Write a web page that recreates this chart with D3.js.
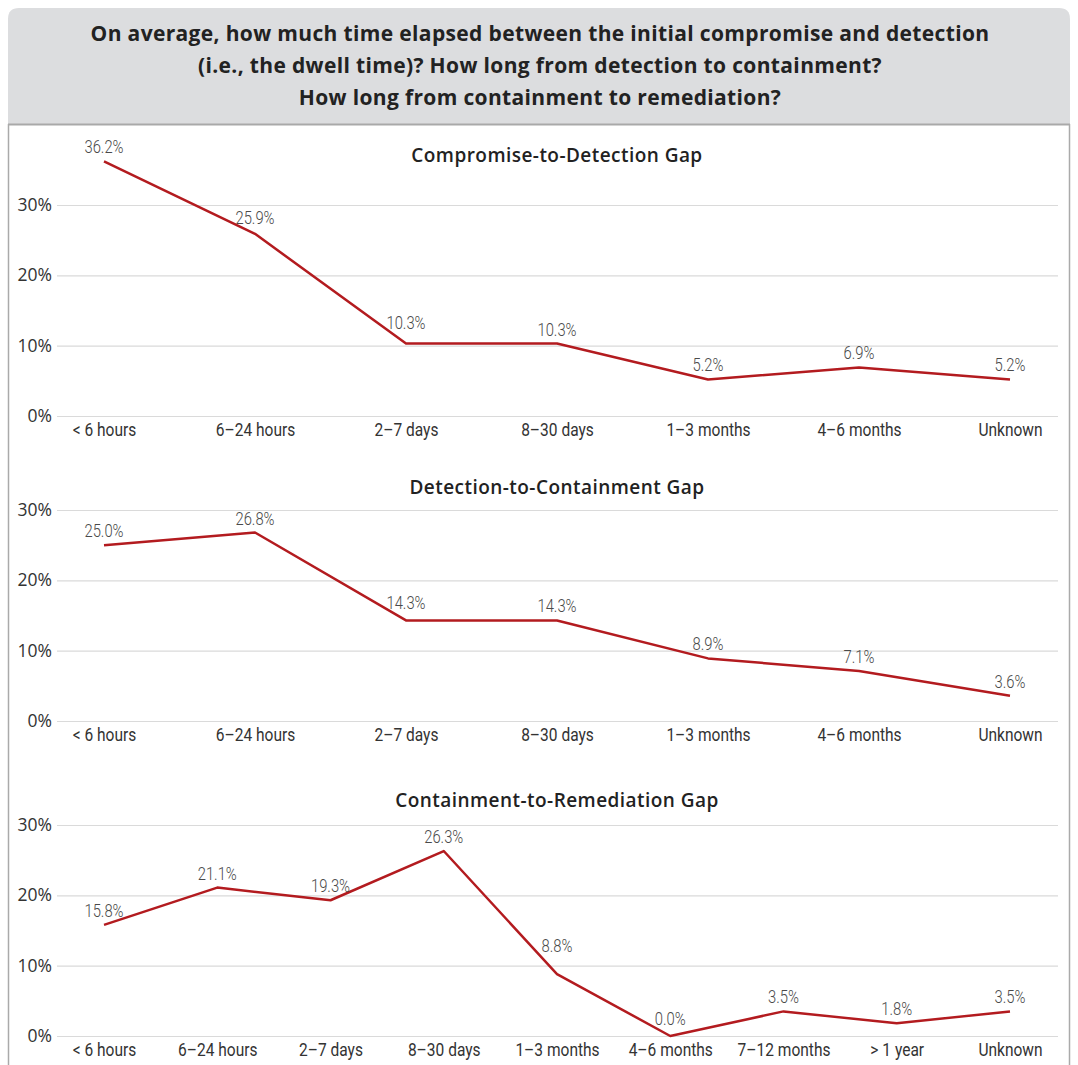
<!DOCTYPE html>
<html>
<head>
<meta charset="utf-8">
<script src="https://cdn.jsdelivr.net/npm/d3@7"></script>
<style>
  html, body { margin: 0; padding: 0; background: #ffffff; }
  svg { display: block; }
</style>
</head>
<body>
<svg id="chart" width="1078" height="1065"></svg>
<script>
// Survey response shares (%) for each gap
const headerLines = [
  "On average, how much time elapsed between the initial compromise and detection",
  "(i.e., the dwell time)? How long from detection to containment?",
  "How long from containment to remediation?"
];
const panelTitles = ["Compromise-to-Detection Gap", "Detection-to-Containment Gap", "Containment-to-Remediation Gap"];
const categoriesShort = ["< 6 hours", "6–24 hours", "2–7 days", "8–30 days", "1–3 months", "4–6 months", "Unknown"];
const categoriesLong = ["< 6 hours", "6–24 hours", "2–7 days", "8–30 days", "1–3 months", "4–6 months", "7–12 months", "> 1 year", "Unknown"];
const detectionValues = [36.2, 25.9, 10.3, 10.3, 5.2, 6.9, 5.2];
const containmentValues = [25.0, 26.8, 14.3, 14.3, 8.9, 7.1, 3.6];
const remediationValues = [15.8, 21.1, 19.3, 26.3, 8.8, 0.0, 3.5, 1.8, 3.5];
const yTickValues = [0, 10, 20, 30];

const W = 1078, H = 1065;
const svg = d3.select("#chart");
const red = "#b31b1f";
const sans = "'Open Sans', 'Noto Sans', sans-serif";
const narrow = "Roboto, 'Noto Sans', sans-serif";
// horizontal squeeze used to give the narrow labels a condensed look
const catSqueeze = 0.84, valSqueeze = 0.8;

// Card: grey header with rounded top corners, thin side borders
const cardL = 8, cardR = 1070, cardT = 8, headB = 124;
svg.append("path")
  .attr("d", `M${cardL},${headB} V${cardT + 11} Q${cardL},${cardT} ${cardL + 11},${cardT} H${cardR - 11} Q${cardR},${cardT} ${cardR},${cardT + 11} V${headB} Z`)
  .attr("fill", "#dcdddf");
svg.append("line").attr("x1", cardL).attr("x2", cardR).attr("y1", headB + 0.5).attr("y2", headB + 0.5)
  .attr("stroke", "#a9a9a9").attr("stroke-width", 2);
[cardL + 0.5, cardR - 0.5].forEach(x => {
  svg.append("line").attr("x1", x).attr("x2", x).attr("y1", headB).attr("y2", H)
    .attr("stroke", "#aaaaaa").attr("stroke-width", 1.5);
});

svg.append("g").selectAll("text").data(headerLines).join("text")
  .attr("x", 540).attr("y", (d, i) => 41 + i * 32)
  .attr("text-anchor", "middle")
  .attr("font-family", sans)
  .attr("font-weight", 700).attr("font-size", 21).attr("letter-spacing", 0.35).attr("fill", "#222")
  .text(d => d);

const panels = [
  { title: panelTitles[0], cats: categoriesShort, vals: detectionValues, zero: 416, titleY: 162 },
  { title: panelTitles[1], cats: categoriesShort, vals: containmentValues, zero: 721, titleY: 494 },
  { title: panelTitles[2], cats: categoriesLong, vals: remediationValues, zero: 1036, titleY: 807 }
];

const gridL = 57, gridR = 1058;
const pxPer30 = 211;

panels.forEach(p => {
  const g = svg.append("g");
  const x = d3.scalePoint().domain(p.cats).range([104, 1010]);
  const y = d3.scaleLinear().domain([0, 30]).range([p.zero, p.zero - pxPer30]);

  // Horizontal gridlines and percentage ticks
  const yAxis = d3.axisLeft(y).tickValues(yTickValues).tickSize(-(gridR - gridL)).tickPadding(5)
    .tickFormat(d => d + "%");
  const ya = g.append("g").attr("transform", `translate(${gridL},0)`).call(yAxis);
  ya.select(".domain").remove();
  ya.selectAll(".tick line").attr("stroke", "#dadada").attr("stroke-width", 1.2);
  ya.selectAll(".tick text")
    .attr("font-family", sans)
    .attr("font-size", 17.5).attr("fill", "#333").attr("dy", "0.32em");

  // Category labels
  const xAxis = d3.axisBottom(x).tickSize(0).tickPadding(7);
  const xa = g.append("g").attr("transform", `translate(0,${p.zero})`).call(xAxis);
  xa.select(".domain").remove();
  xa.selectAll(".tick text")
    .attr("font-family", narrow)
    .attr("font-size", 18.5).attr("fill", "#333")
    .attr("transform", `scale(${catSqueeze},1)`);

  // Panel title
  g.append("text").attr("x", 557).attr("y", p.titleY).attr("text-anchor", "middle")
    .attr("font-family", sans)
    .attr("font-weight", 600).attr("font-size", 19).attr("letter-spacing", 0.45).attr("fill", "#222")
    .text(p.title);

  const pts = p.cats.map((c, i) => ({ c, v: p.vals[i], i }));
  const line = d3.line().x(d => x(d.c)).y(d => y(d.v));
  g.append("path").datum(pts).attr("d", line)
    .attr("fill", "none").attr("stroke", red).attr("stroke-width", 2.5)
    .attr("stroke-linejoin", "round");

  // Value labels sit above each point; lift them further when the line
  // drops steeply into the point so the text clears the segment.
  const step = x.step();
  const lift = d => {
    if (d.i === 0) return 14;
    const prev = pts[d.i - 1];
    const slope = (y(d.v) - y(prev.v)) / step;
    return 14 + Math.max(0, slope - 0.4) * 20;
  };
  g.append("g").selectAll("text").data(pts).join("text")
    .attr("font-family", narrow)
    .attr("transform", d => `translate(${x(d.c)},${y(d.v) - lift(d) + 6}) scale(${valSqueeze},1)`)
    .attr("text-anchor", "middle").attr("font-size", 18.5).attr("fill", "#4a4a4a")
    .attr("font-weight", 300)
    .text(d => d.v.toFixed(1) + "%");
});
</script>
</body>
</html>
